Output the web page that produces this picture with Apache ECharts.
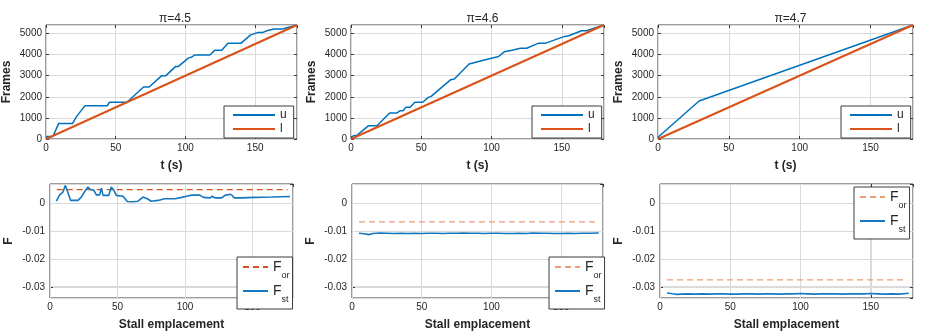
<!DOCTYPE html>
<html>
<head>
<meta charset="utf-8">
<script src="https://cdn.jsdelivr.net/npm/echarts@6/dist/echarts.min.js"></script>
<style>
  html, body { margin: 0; padding: 0; background: #fff; }
  #chart { width: 926px; height: 335px; }
</style>
</head>
<body>
<div id="chart"></div>
<script>
// 数据
const titles = ['π=4.5', 'π=4.6', 'π=4.7'];
const tTicks = [0, 50, 100, 150];
const fTicks = [-0.03, -0.02, -0.01, 0];

// 上排：u 曲线
const u1T = [0, 5, 9, 19, 22, 28, 44, 45.5, 58, 70, 74, 83, 86, 93, 95, 102, 104.5, 106.5, 117.5, 121, 126, 130.5, 140, 146.5, 152, 155.5, 159, 163.5, 169.5, 180];
const u1Y = [120, 120, 730, 730, 1070, 1580, 1580, 1740, 1740, 2460, 2460, 3000, 3000, 3440, 3440, 3830, 3880, 3980, 3980, 4200, 4200, 4540, 4540, 4920, 5050, 5050, 5140, 5210, 5210, 5400];
const u2T = [0, 2, 4, 12.5, 18.5, 27.5, 32.5, 35, 37, 39, 42, 45.5, 51, 55, 57, 71, 73.5, 84, 93.5, 105, 109, 114.5, 120.5, 125, 133.5, 138.5, 152, 155, 164, 167.5, 180];
const u2Y = [90, 160, 160, 630, 630, 1230, 1230, 1340, 1340, 1500, 1500, 1740, 1740, 1970, 2020, 2810, 2840, 3550, 3720, 3910, 4130, 4200, 4300, 4300, 4540, 4540, 4860, 4890, 5130, 5130, 5400];
const u3T = [0, 29, 180];
const u3Y = [80, 1800, 5400];
// 上排：l 直线
const lT = [0, 180];
const lY = [0, 5400];

// 下排：F_st
const st1T = [4.7, 7.2, 9.6, 11.4, 12.8, 15.3, 20.7, 23.2, 25.7, 28.1, 30.1, 32.6, 34.3, 36.8, 38, 39.3, 43.5, 45.4, 47.4, 49.1, 54.1, 57.3, 61.5, 65.2, 68.9, 72.1, 75, 80, 84.9, 92.6, 97.5, 101.2, 105, 111, 113.6, 118.5, 120.2, 122.2, 127.2, 129.6, 133.3, 135, 136.5, 142, 151.9, 164.2, 177.8];
const st1V = [0.0008, 0.0031, 0.0041, 0.0065, 0.0067, 0.0011, 0.0011, 0.0023, 0.0043, 0.0059, 0.005, 0.0047, 0.0031, 0.0031, 0.0055, 0.0029, 0.0029, 0.0059, 0.0047, 0.0029, 0.0026, 0.0007, 0.0006, 0.0008, 0.0023, 0.0017, 0.0008, 0.0011, 0.0017, 0.0017, 0.0022, 0.0026, 0.003, 0.003, 0.0022, 0.002, 0.0026, 0.002, 0.002, 0.0029, 0.0033, 0.0029, 0.002, 0.002, 0.0022, 0.0023, 0.0025];
const stT = [5, 9, 12, 15, 20, 25, 30, 35, 40, 45, 50, 55, 60, 65, 70, 75, 80, 85, 90, 95, 100, 105, 110, 115, 120, 125, 130, 135, 140, 145, 150, 155, 160, 165, 170, 177];
const st2V = [-0.0107, -0.0109, -0.0112, -0.0108, -0.0106, -0.0107, -0.0108, -0.0107, -0.0108, -0.0107, -0.0108, -0.0107, -0.0107, -0.0108, -0.0107, -0.0107, -0.0106, -0.0107, -0.0107, -0.0108, -0.0107, -0.0107, -0.0108, -0.0108, -0.0107, -0.0108, -0.0106, -0.0107, -0.0107, -0.0108, -0.0108, -0.0107, -0.0108, -0.0107, -0.0107, -0.0106];
const st3V = [-0.0322, -0.0325, -0.0327, -0.0326, -0.0325, -0.0326, -0.0325, -0.0326, -0.0325, -0.0325, -0.0326, -0.0326, -0.0325, -0.0325, -0.0326, -0.0325, -0.0325, -0.0326, -0.0325, -0.0325, -0.0324, -0.0325, -0.0326, -0.0325, -0.0325, -0.0325, -0.0326, -0.0325, -0.0325, -0.0325, -0.0324, -0.0325, -0.0326, -0.0325, -0.0326, -0.0323];
// 下排：F_or 水平虚线
const orT = [5, 176];
const orV = [0.005, -0.0066, -0.0275];

const BLUE = '#0072BD';
const ORANGE = '#D95319';
const FONT = 'Liberation Sans';
const TXT = '#262626';
const BORDER = '#3a3a3a';
const GRIDLINE = '#dadada';
const F_MIN = -0.034, F_MAX = 0.007;

function zip(a, b) { return a.map((v, i) => [v, b[i]]); }

// 网格位置
const grids = [
  { left: 43, top: 25, width: 254, height: 114 },
  { left: 351, top: 25, width: 253, height: 114 },
  { left: 658, top: 25, width: 255, height: 114 },
  { left: 50, top: 184, width: 243, height: 114 },
  { left: 352, top: 184, width: 251, height: 114 },
  { left: 660, top: 184, width: 253, height: 114 }
].map(g => Object.assign({ show: true, borderColor: BORDER, borderWidth: 1 }, g));

const tickStyle = { inside: true, length: 3, lineStyle: { color: BORDER } };
const noLine = { show: false, onZero: false };

const xAxes = [];
const yAxes = [];
grids.forEach((g, i) => {
  const top = i < 3;
  xAxes.push({
    type: 'value', gridIndex: i, min: 0, max: 180, interval: 50,
    name: top ? 't (s)' : 'Stall emplacement', nameLocation: 'middle', nameGap: 21,
    nameTextStyle: { fontFamily: FONT, fontSize: 12, fontWeight: 'bold', color: TXT },
    axisLine: noLine,
    axisTick: tickStyle,
    axisLabel: { showMaxLabel: false, fontFamily: FONT, fontSize: 10, color: TXT, margin: 4 },
    splitLine: { show: true, lineStyle: { color: GRIDLINE, width: 1 } }
  });
  xAxes.push({
    type: 'value', gridIndex: i, min: 0, max: 180, interval: 50, position: 'top',
    axisLine: noLine, axisTick: tickStyle,
    axisLabel: { show: false }, splitLine: { show: false }
  });
  // F 轴不设 interval，让刻度落在 0.01 的整数倍上
  const yRange = top
    ? { min: 0, max: 5400, interval: 1000 }
    : { min: F_MIN, max: F_MAX, splitNumber: 4 };
  yAxes.push(Object.assign({
    type: 'value', gridIndex: i,
    name: top ? 'Frames' : 'F', nameLocation: 'middle', nameGap: top ? 33 : 35,
    nameTextStyle: { fontFamily: FONT, fontSize: 12, fontWeight: 'bold', color: TXT },
    axisLine: noLine, axisTick: tickStyle,
    axisLabel: { showMinLabel: top ? true : false, showMaxLabel: false, fontFamily: FONT, fontSize: 10, color: TXT, margin: top ? 4 : 5, formatter: v => String(v) },
    splitLine: { show: true, lineStyle: { color: GRIDLINE, width: 1 } }
  }, yRange));
  yAxes.push(Object.assign({
    type: 'value', gridIndex: i, position: 'right',
    axisLine: noLine, axisTick: tickStyle,
    axisLabel: { show: false }, splitLine: { show: false }
  }, yRange));
});

const series = [];
function addLine(name, i, data, color, width, dashed) {
  series.push({
    name: name, type: 'line', xAxisIndex: i * 2, yAxisIndex: i * 2,
    data: data, symbol: 'none', animation: false, z: 3,
    lineStyle: { color: color, width: width, type: dashed ? [6, 4] : 'solid' },
    itemStyle: { color: color }
  });
}
const uData = [zip(u1T, u1Y), zip(u2T, u2Y), zip(u3T, u3Y)];
uData.forEach((d, i) => {
  addLine('u' + i, i, d, BLUE, 1.5);
  addLine('l' + i, i, zip(lT, lY), ORANGE, 2);
});
const stData = [zip(st1T, st1V), zip(stT, st2V), zip(stT, st3V)];
const orColors = [ORANGE, '#EC9D78', '#EC9D78'];
stData.forEach((d, j) => {
  const i = j + 3;
  addLine('or' + j, i, zip(orT, [orV[j], orV[j]]), orColors[j], 1.3, true);
  addLine('st' + j, i, d, '#1478C0', 1.6);
});

const legendText = {
  fontFamily: FONT, color: TXT,
  rich: {
    a: { fontFamily: FONT, fontSize: 14, color: TXT, lineHeight: 14 },
    b: { fontFamily: FONT, fontSize: 9, color: TXT, lineHeight: 6, verticalAlign: 'bottom', padding: [0, 0, -6, 0] },
    n: { fontFamily: FONT, fontSize: 12, color: TXT }
  }
};
function fmt(name) {
  if (name[0] === 'u') return '{n|u}';
  if (name[0] === 'l') return '{n|l}';
  if (name.startsWith('or')) return '{a|F}{b|or}';
  return '{a|F}{b|st}';
}
const topLegend = (left, k) => ({
  data: ['u' + k, 'l' + k], orient: 'vertical', left: left, top: 106,
  padding: [3, 7, 3, 8], itemGap: 2, itemWidth: 42, itemHeight: 12,
  borderColor: BORDER, borderWidth: 1, backgroundColor: '#fff',
  itemStyle: { opacity: 0 }, z: 5,
  formatter: fmt, textStyle: legendText, selectedMode: false
});
const botLegend = (left, top, k) => ({
  data: ['or' + k, 'st' + k], orient: 'vertical', left: left, top: top,
  padding: [3, 3, 5, 5], itemGap: 4, itemWidth: 25, itemHeight: 14,
  borderColor: BORDER, borderWidth: 1, backgroundColor: '#fff',
  itemStyle: { opacity: 0 }, z: 5,
  formatter: fmt, textStyle: legendText, selectedMode: false
});

const chart = echarts.init(document.getElementById('chart'));
chart.setOption({
  animation: false,
  backgroundColor: '#fff',
  title: titles.map((t, i) => ({
    text: t, left: grids[i].left + grids[i].width / 2, top: 8, textAlign: 'center',
    textStyle: { fontFamily: FONT, fontSize: 12, fontWeight: 'normal', color: TXT }
  })),
  grid: grids,
  xAxis: xAxes,
  yAxis: yAxes,
  legend: [
    topLegend(224, 0), topLegend(532, 1), topLegend(841, 2),
    botLegend(237, 257, 0), botLegend(549, 257, 1), botLegend(854, 187, 2)
  ],
  series: series
});

// 下排网格线：用坐标轴换算刻度值的位置
function crisp(v) { return Math.round(v - 0.5) + 0.5; }
const gridLines = [];
[3, 4, 5].forEach(i => {
  const finder = { xAxisIndex: i * 2, yAxisIndex: i * 2 };
  tTicks.forEach(t => {
    const a = chart.convertToPixel(finder, [t, F_MIN]);
    const b = chart.convertToPixel(finder, [t, F_MAX]);
    gridLines.push({ type: 'line', silent: true, z: 1,
      shape: { x1: crisp(a[0]), y1: a[1], x2: crisp(b[0]), y2: b[1] },
      style: { stroke: GRIDLINE, lineWidth: 1 } });
  });
  fTicks.forEach(f => {
    const a = chart.convertToPixel(finder, [0, f]);
    const b = chart.convertToPixel(finder, [180, f]);
    gridLines.push({ type: 'line', silent: true, z: 1,
      shape: { x1: a[0], y1: crisp(a[1]), x2: b[0], y2: crisp(b[1]) },
      style: { stroke: GRIDLINE, lineWidth: 1 } });
  });
});
chart.setOption({ graphic: gridLines });

window.addEventListener('resize', function () { chart.resize(); });
</script>
</body>
</html>
